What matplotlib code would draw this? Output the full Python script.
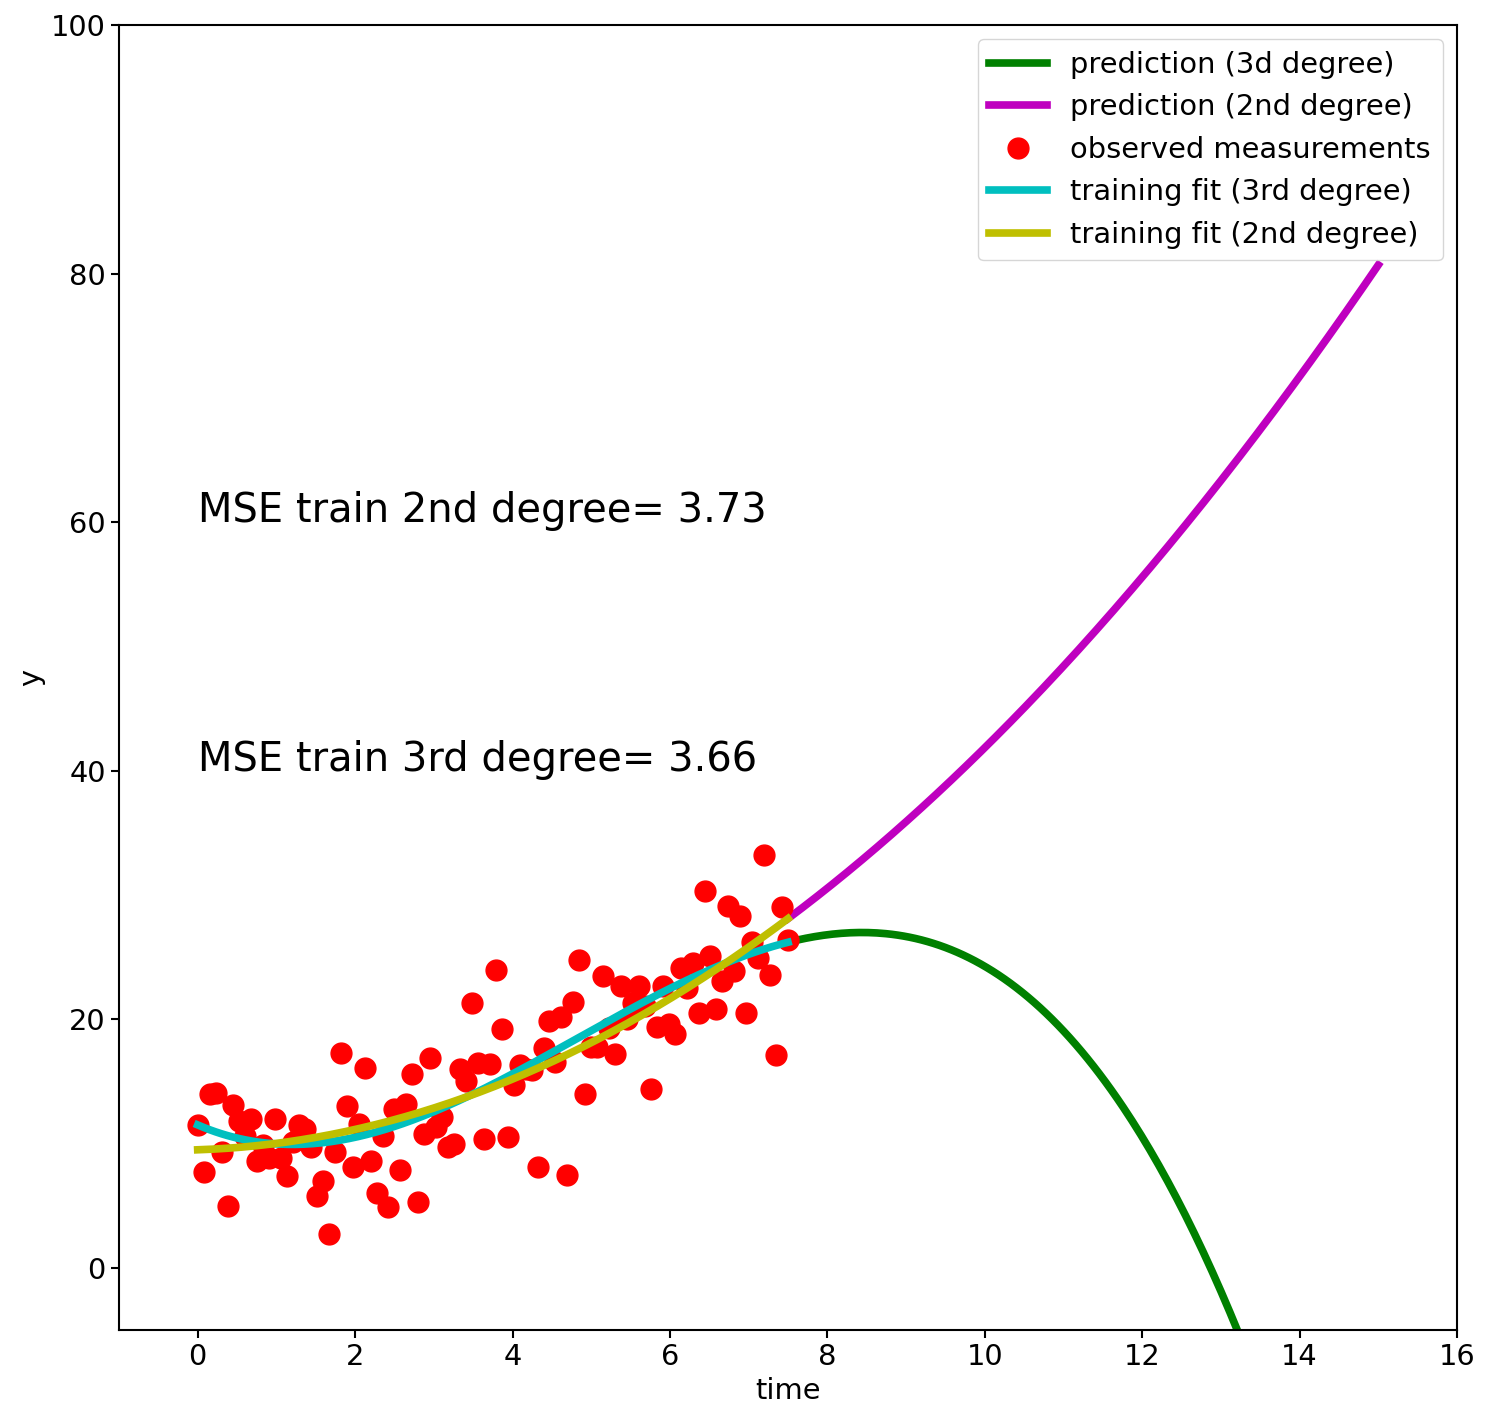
import matplotlib

matplotlib.use("Agg")
import matplotlib.pyplot as plt
import numpy as np


time_obs = np.linspace(0, 7.5, 100)
y_obs = [
    11.5, 7.7, 14.0, 14.1, 9.3, 5.0, 13.1, 11.8, 10.6, 12.0,
    8.6, 9.9, 8.8, 12.0, 8.8, 7.4, 10.1, 11.5, 11.2, 9.7,
    5.8, 7.0, 2.7, 9.3, 17.3, 13.0, 8.1, 11.6, 16.1, 8.6,
    6.0, 10.6, 4.9, 12.8, 7.9, 13.2, 15.6, 5.3, 10.8, 16.9,
    11.3, 12.1, 9.7, 10.0, 16.0, 15.0, 21.3, 16.5, 10.4, 16.4,
    24.0, 19.2, 10.5, 14.7, 16.3, 16.0, 15.9, 8.1, 17.7, 19.9,
    16.6, 20.2, 7.5, 21.4, 24.8, 14.0, 17.8, 17.8, 23.5, 19.3,
    17.2, 22.7, 20.0, 21.3, 22.7, 21.1, 14.4, 19.4, 22.7, 19.6,
    18.8, 24.1, 22.5, 24.5, 20.5, 30.3, 25.1, 20.8, 23.1, 29.1,
    23.9, 28.3, 20.5, 26.2, 24.9, 33.2, 23.6, 17.1, 29.0, 26.4,
]

# fitted polynomial coefficients (highest power first), estimated from the curves
coef_deg2 = [0.3022, 0.2133, 9.5]
coef_deg3 = [-0.0900, 1.3016, -2.74, 11.5]

mse_deg2 = 3.73
mse_deg3 = 3.66

t_train = np.linspace(0, 7.5, 200)
t_pred = np.linspace(7.5, 15, 200)

fig = plt.figure(figsize=(14.91, 14.22), dpi=100)
ax = fig.add_axes([0.0798, 0.0647, 0.8974, 0.9177])

ax.plot(t_pred, np.polyval(coef_deg3, t_pred), color="g", lw=5.5,
        label="prediction (3d degree)")
ax.plot(t_pred, np.polyval(coef_deg2, t_pred), color="m", lw=5.5,
        label="prediction (2nd degree)")
ax.plot(time_obs, y_obs, "ro", markersize=15, label="observed measurements")
ax.plot(t_train, np.polyval(coef_deg3, t_train), color="c", lw=5.5,
        label="training fit (3rd degree)")
ax.plot(t_train, np.polyval(coef_deg2, t_train), color="y", lw=5.5,
        label="training fit (2nd degree)")

ax.text(0, 60, f"MSE train 2nd degree= {mse_deg2:.2f}", fontsize=28.8)
ax.text(0, 40, f"MSE train 3rd degree= {mse_deg3:.2f}", fontsize=28.8)

ax.set_xlim(-1, 16)
ax.set_ylim(-5, 100)
ax.set_xlabel("time", fontsize=20.8)
ax.set_ylabel("y", fontsize=20.8)
ax.tick_params(labelsize=20.8, width=1.5, length=6)
for spine in ax.spines.values():
    spine.set_linewidth(1.5)
ax.legend(loc="upper right", fontsize=20.8)

fig.savefig("out.png", dpi=100)
